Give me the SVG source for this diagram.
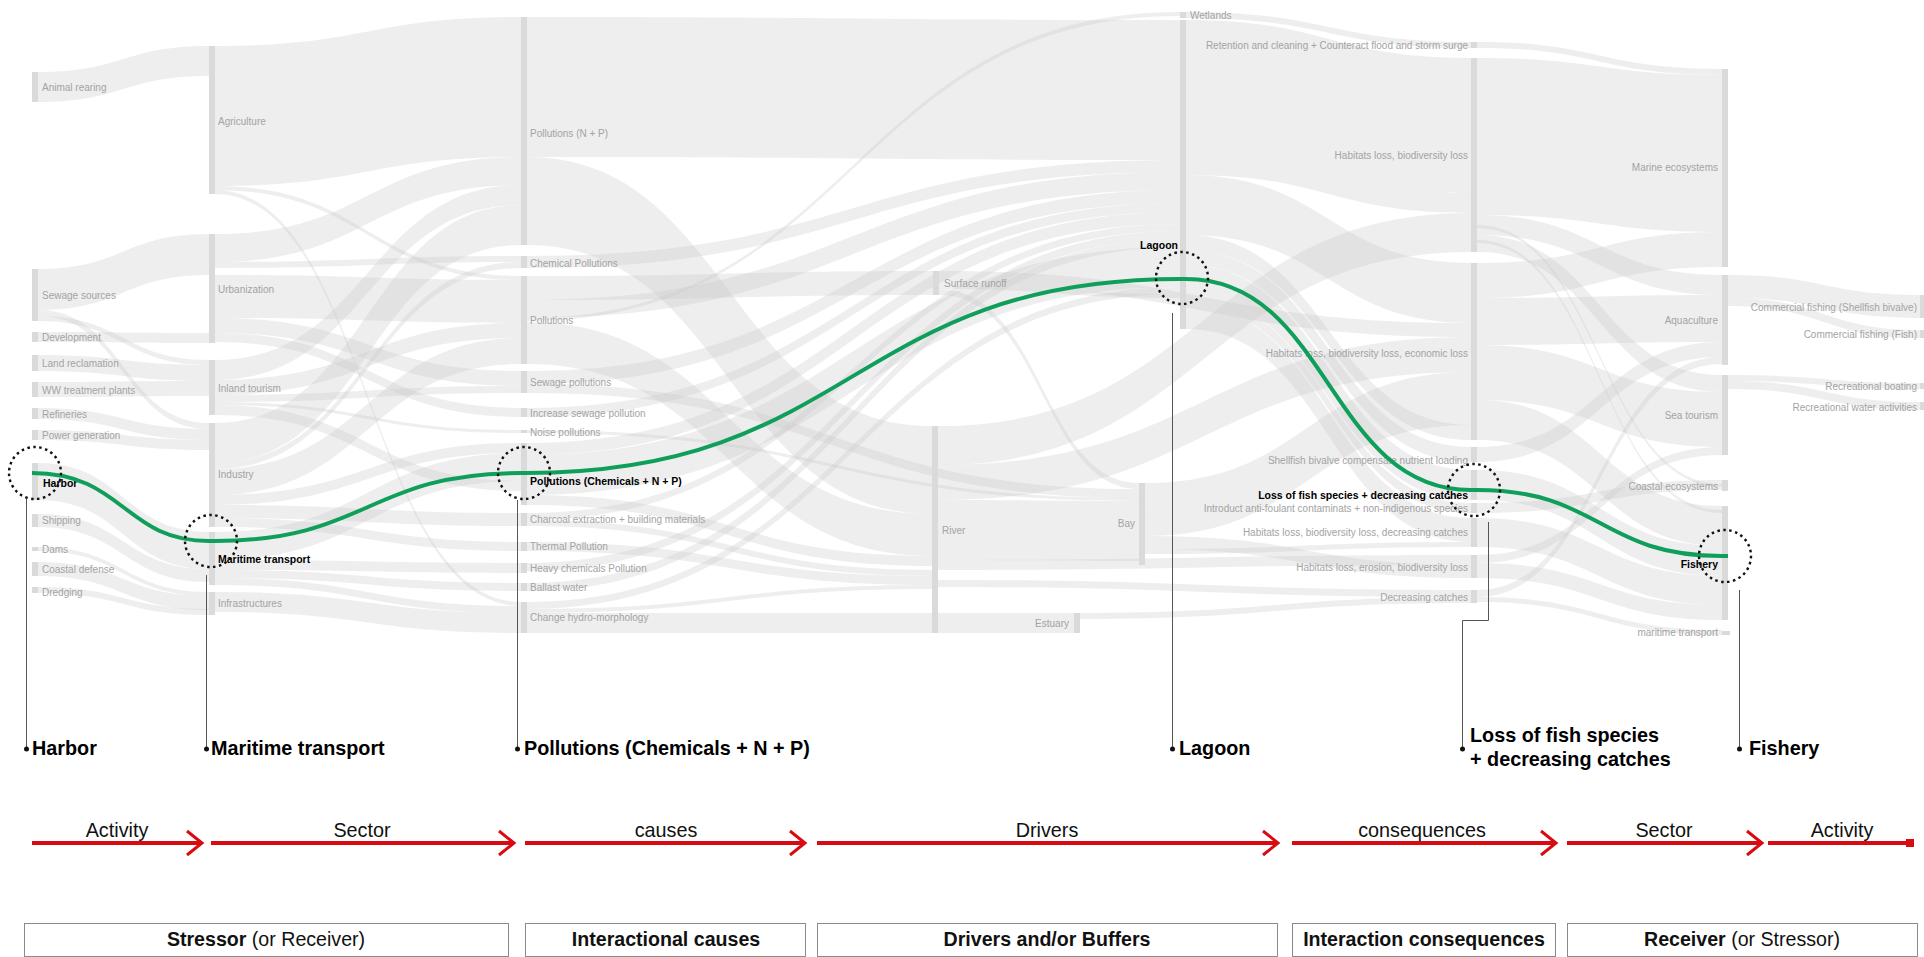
<svg xmlns="http://www.w3.org/2000/svg" width="1924" height="957" viewBox="0 0 1924 957">
<defs>
<style>
.bar{fill:#dadada}
.lbl{font-family:"Liberation Sans",Arial,sans-serif;font-size:10px;fill:#a3a3a3}
.end{text-anchor:end}
.hl{font-family:"Liberation Sans",Arial,sans-serif;font-size:10.5px;font-weight:bold;fill:#000}
#links path{fill:#cccccc;fill-opacity:0.33}
.focus{fill:none;stroke:#0f9f5b;stroke-width:4}
.ring{fill:none;stroke:#111;stroke-width:2.4;stroke-dasharray:2.5 3.5}
.lead{stroke:#555;stroke-width:1;fill:none}
.dot{fill:#111}
.big{font-family:"Liberation Sans",Arial,sans-serif;font-size:19.8px;font-weight:bold;fill:#000}
.arr{stroke:#d90a12;stroke-width:4;fill:none}
.alab{font-family:"Liberation Sans",Arial,sans-serif;font-size:19.8px;fill:#111;text-anchor:middle}
.box{fill:#fff;stroke:#8a8a8a;stroke-width:1}
.blab{font-family:"Liberation Sans",Arial,sans-serif;font-size:19.6px;fill:#111;text-anchor:middle}
.b{font-weight:bold}
</style>
<marker id="chev" markerUnits="userSpaceOnUse" markerWidth="20" markerHeight="30" refX="17" refY="15" orient="auto" overflow="visible"><path d="M2 3 L17 15 L2 27" fill="none" stroke="#d90a12" stroke-width="3"/></marker>
<marker id="sq" markerUnits="userSpaceOnUse" markerWidth="10" markerHeight="10" refX="8" refY="4" orient="auto" overflow="visible"><rect x="0" y="0" width="8" height="8" fill="#d90a12"/></marker>
</defs>
<rect width="1924" height="957" fill="#fff"/>

<g id="links">
<path d="M38 72C123.5 72 123.5 46 209 46L209 76C123.5 76 123.5 102 38 102Z"/>
<path d="M38 269C123.5 269 123.5 234 209 234L209 265C123.5 265 123.5 300 38 300Z"/>
<path d="M38 300C123.5 300 123.5 265 209 265L209 275C123.5 275 123.5 310 38 310Z"/>
<path d="M38 310C123.5 310 123.5 423 209 423L209 429C123.5 429 123.5 316 38 316Z"/>
<path d="M38 316C123.5 316 123.5 360 209 360L209 365C123.5 365 123.5 321 38 321Z"/>
<path d="M38 332C123.5 332 123.5 333 209 333L209 343C123.5 343 123.5 342 38 342Z"/>
<path d="M38 355C123.5 355 123.5 365 209 365L209 381C123.5 381 123.5 371 38 371Z"/>
<path d="M38 382C123.5 382 123.5 381 209 381L209 396C123.5 396 123.5 397 38 397Z"/>
<path d="M38 408C123.5 408 123.5 429 209 429L209 440C123.5 440 123.5 419 38 419Z"/>
<path d="M38 430C123.5 430 123.5 440 209 440L209 450C123.5 450 123.5 440 38 440Z"/>
<path d="M38 463C123.5 463 123.5 532 209 532L209 569C123.5 569 123.5 500 38 500Z"/>
<path d="M38 514C123.5 514 123.5 569 209 569L209 582C123.5 582 123.5 527 38 527Z"/>
<path d="M38 547C123.5 547 123.5 592 209 592L209 596C123.5 596 123.5 551 38 551Z"/>
<path d="M38 562C123.5 562 123.5 596 209 596L209 610C123.5 610 123.5 576 38 576Z"/>
<path d="M38 587C123.5 587 123.5 609 209 609L209 615C123.5 615 123.5 593 38 593Z"/>

<path d="M215 46C368 46 368 17 521 17L521 157C368 157 368 186 215 186Z"/>
<path d="M215 186C368 186 368 276 521 276L521 280C368 280 368 190 215 190Z"/>
<path d="M215 190C368 190 368 602 521 602L521 606C368 606 368 194 215 194Z"/>
<path d="M215 234C368 234 368 157 521 157L521 185C368 185 368 262 215 262Z"/>
<path d="M215 262C368 262 368 256 521 256L521 262C368 262 368 268 215 268Z"/>
<path d="M215 275C368 275 368 280 521 280L521 323C368 323 368 318 215 318Z"/>
<path d="M215 318C368 318 368 371 521 371L521 386C368 386 368 333 215 333Z"/>
<path d="M215 333C368 333 368 408 521 408L521 417C368 417 368 342 215 342Z"/>
<path d="M215 360C368 360 368 185 521 185L521 205C368 205 368 380 215 380Z"/>
<path d="M215 380C368 380 368 323 521 323L521 338C368 338 368 395 215 395Z"/>
<path d="M215 395C368 395 368 386 521 386L521 393C368 393 368 402 215 402Z"/>
<path d="M215 402C368 402 368 430 521 430L521 433C368 433 368 405 215 405Z"/>
<path d="M215 405C368 405 368 481 521 481L521 491C368 491 368 415 215 415Z"/>
<path d="M215 423C368 423 368 205 521 205L521 245C368 245 368 463 215 463Z"/>
<path d="M215 463C368 463 368 262 521 262L521 268C368 268 368 469 215 469Z"/>
<path d="M215 469C368 469 368 338 521 338L521 364C368 364 368 495 215 495Z"/>
<path d="M215 495C368 495 368 443 521 443L521 453C368 453 368 505 215 505Z"/>
<path d="M215 505C368 505 368 513 521 513L521 526C368 526 368 518 215 518Z"/>
<path d="M215 518C368 518 368 542 521 542L521 551C368 551 368 527 215 527Z"/>
<path d="M215 532C368 532 368 453 521 453L521 481C368 481 368 560 215 560Z"/>
<path d="M215 560C368 560 368 563 521 563L521 573C368 573 368 570 215 570Z"/>
<path d="M215 570C368 570 368 583 521 583L521 591C368 591 368 578 215 578Z"/>
<path d="M215 578C368 578 368 606 521 606L521 613C368 613 368 585 215 585Z"/>
<path d="M215 592C368 592 368 613 521 613L521 633C368 633 368 612 215 612Z"/>

<path d="M527 17C853.5 17 853.5 20 1180 20L1180 160C853.5 160 853.5 157 527 157Z"/>
<path d="M527 157C729.5 157 729.5 426 932 426L932 514C729.5 514 729.5 245 527 245Z"/>
<path d="M527 256C853.5 256 853.5 160 1180 160L1180 166C853.5 166 853.5 262 527 262Z"/>
<path d="M527 262C853.5 262 853.5 166 1180 166L1180 172C853.5 172 853.5 268 527 268Z"/>
<path d="M527 276C730 276 730 271 933 271L933 295C730 295 730 300 527 300Z"/>
<path d="M527 300C853.5 300 853.5 172 1180 172L1180 190C853.5 190 853.5 318 527 318Z"/>
<path d="M527 318C853.5 318 853.5 12 1180 12L1180 16C853.5 16 853.5 321 527 321Z"/>
<path d="M527 322C729.5 322 729.5 514 932 514L932 556C729.5 556 729.5 364 527 364Z"/>
<path d="M527 371C853.5 371 853.5 190 1180 190L1180 203C853.5 203 853.5 384 527 384Z"/>
<path d="M527 384C833 384 833 489 1139 489L1139 498C833 498 833 393 527 393Z"/>
<path d="M527 408C853.5 408 853.5 203 1180 203L1180 212C853.5 212 853.5 417 527 417Z"/>
<path d="M527 430C833 430 833 498 1139 498L1139 501C833 501 833 433 527 433Z"/>
<path d="M527 443C853.5 443 853.5 212 1180 212L1180 224C853.5 224 853.5 455 527 455Z"/>
<path d="M527 513C853.5 513 853.5 224 1180 224L1180 231C853.5 231 853.5 520 527 520Z"/>
<path d="M527 520C729.5 520 729.5 570 932 570L932 576C729.5 576 729.5 526 527 526Z"/>
<path d="M527 542C729.5 542 729.5 576 932 576L932 585C729.5 585 729.5 551 527 551Z"/>
<path d="M527 563C853.5 563 853.5 231 1180 231L1180 239C853.5 239 853.5 571 527 571Z"/>
<path d="M527 583C853.5 583 853.5 239 1180 239L1180 247C853.5 247 853.5 591 527 591Z"/>
<path d="M527 455C853.5 455 853.5 247 1180 247L1180 287C853.5 287 853.5 495 527 495Z"/>
<path d="M527 495C729.5 495 729.5 556 932 556L932 566C729.5 566 729.5 505 527 505Z"/>
<path d="M527 602C853.5 602 853.5 287 1180 287L1180 294C853.5 294 853.5 609 527 609Z"/>
<path d="M527 609C729.5 609 729.5 585 932 585L932 589C729.5 589 729.5 613 527 613Z"/>
<path d="M527 613H1074V633H527Z"/>

<path d="M1186 12C1328.5 12 1328.5 42 1471 42L1471 48C1328.5 48 1328.5 18 1186 18Z"/>
<path d="M1186 20C1328.5 20 1328.5 58 1471 58L1471 193C1328.5 193 1328.5 155 1186 155Z"/>
<path d="M1186 155C1328.5 155 1328.5 193 1471 193L1471 213C1328.5 213 1328.5 175 1186 175Z"/>
<path d="M1186 175C1328.5 175 1328.5 263 1471 263L1471 323C1328.5 323 1328.5 235 1186 235Z"/>
<path d="M1186 235C1328.5 235 1328.5 425 1471 425L1471 440C1328.5 440 1328.5 250 1186 250Z"/>
<path d="M1186 250C1328.5 250 1328.5 447 1471 447L1471 462C1328.5 462 1328.5 265 1186 265Z"/>
<path d="M1186 265C1328.5 265 1328.5 470 1471 470L1471 500C1328.5 500 1328.5 295 1186 295Z"/>
<path d="M1186 295C1328.5 295 1328.5 503 1471 503L1471 513C1328.5 513 1328.5 305 1186 305Z"/>
<path d="M1186 305C1328.5 305 1328.5 518 1471 518L1471 542C1328.5 542 1328.5 329 1186 329Z"/>
<path d="M939 271C1205 271 1205 323 1471 323L1471 337C1205 337 1205 285 939 285Z"/>
<path d="M939 285C1059.5 285 1059.5 294 1180 294L1180 298C1059.5 298 1059.5 289 939 289Z"/>
<path d="M939 289C1042 289 1042 483 1139 483L1139 489C1042 489 1042 295 939 295Z"/>
<path d="M938 426C1204.5 426 1204.5 213 1471 213L1471 252C1204.5 252 1204.5 465 938 465Z"/>
<path d="M938 465C1204.5 465 1204.5 337 1471 337L1471 372C1204.5 372 1204.5 500 938 500Z"/>
<path d="M938 500C1038.5 500 1038.5 501 1139 501L1139 561C1038.5 561 1038.5 560 938 560Z"/>
<path d="M938 560C1204.5 560 1204.5 555 1471 555L1471 565C1204.5 565 1204.5 570 938 570Z"/>
<path d="M938 580C1204.5 580 1204.5 590 1471 590L1471 597C1204.5 597 1204.5 587 938 587Z"/>
<path d="M1145 483C1308 483 1308 372 1471 372L1471 409C1308 409 1308 520 1145 520Z"/>
<path d="M1145 520C1308 520 1308 409 1471 409L1471 425C1308 425 1308 536 1145 536Z"/>
<path d="M1145 536C1308 536 1308 565 1471 565L1471 578C1308 578 1308 549 1145 549Z"/>
<path d="M1145 549C1308 549 1308 542 1471 542L1471 547C1308 547 1308 554 1145 554Z"/>
<path d="M1080 613C1275.5 613 1275.5 597 1471 597L1471 603C1275.5 603 1275.5 619 1080 619Z"/>

<path d="M1477 42C1599.5 42 1599.5 69 1722 69L1722 75C1599.5 75 1599.5 48 1477 48Z"/>
<path d="M1477 58C1599.5 58 1599.5 75 1722 75L1722 232C1599.5 232 1599.5 215 1477 215Z"/>
<path d="M1477 215C1599.5 215 1599.5 275 1722 275L1722 295C1599.5 295 1599.5 235 1477 235Z"/>
<path d="M1477 235C1599.5 235 1599.5 375 1722 375L1722 392C1599.5 392 1599.5 252 1477 252Z"/>
<path d="M1477 263C1599.5 263 1599.5 232 1722 232L1722 267C1599.5 267 1599.5 298 1477 298Z"/>
<path d="M1477 298C1599.5 298 1599.5 295 1722 295L1722 342C1599.5 342 1599.5 345 1477 345Z"/>
<path d="M1477 345C1599.5 345 1599.5 392 1722 392L1722 447C1599.5 447 1599.5 400 1477 400Z"/>
<path d="M1477 400C1599.5 400 1599.5 506 1722 506L1722 546C1599.5 546 1599.5 440 1477 440Z"/>
<path d="M1477 447C1599.5 447 1599.5 342 1722 342L1722 357C1599.5 357 1599.5 462 1477 462Z"/>
<path d="M1477 470C1599.5 470 1599.5 546 1722 546L1722 576C1599.5 576 1599.5 500 1477 500Z"/>
<path d="M1477 503C1599.5 503 1599.5 480 1722 480L1722 490C1599.5 490 1599.5 513 1477 513Z"/>
<path d="M1477 518C1599.5 518 1599.5 576 1722 576L1722 605C1599.5 605 1599.5 547 1477 547Z"/>
<path d="M1477 555C1599.5 555 1599.5 447 1722 447L1722 455C1599.5 455 1599.5 563 1477 563Z"/>
<path d="M1477 563C1599.5 563 1599.5 605 1722 605L1722 620C1599.5 620 1599.5 578 1477 578Z"/>
<path d="M1477 590C1599.5 590 1599.5 357 1722 357L1722 364C1599.5 364 1599.5 597 1477 597Z"/>
<path d="M1477 597C1599.5 597 1599.5 630 1722 630L1722 635C1599.5 635 1599.5 602 1477 602Z"/>
<path d="M1477 225C1599.5 225 1599.5 484 1722 484L1722 487C1599.5 487 1599.5 228 1477 228Z"/>
<path d="M1477 240C1599.5 240 1599.5 510 1722 510L1722 513C1599.5 513 1599.5 243 1477 243Z"/>

<path d="M1728 275C1824 275 1824 295 1920 295L1920 318C1824 318 1824 298 1728 298Z"/>
<path d="M1728 298C1824 298 1824 330 1920 330L1920 338C1824 338 1824 306 1728 306Z"/>
<path d="M1728 375C1824 375 1824 383 1920 383L1920 389C1824 389 1824 381 1728 381Z"/>
<path d="M1728 381C1824 381 1824 402 1920 402L1920 410C1824 410 1824 389 1728 389Z"/>
</g>

<g id="col-activity">
<g id="n-animal-rearing"><rect class="bar" x="32" y="72" width="6" height="30"/><text class="lbl" x="42" y="90.5">Animal rearing</text></g>
<g id="n-sewage-sources"><rect class="bar" x="32" y="269" width="6" height="52"/><text class="lbl" x="42" y="298.5">Sewage sources</text></g>
<g id="n-development"><rect class="bar" x="32" y="332" width="6" height="10"/><text class="lbl" x="42" y="340.5">Development</text></g>
<g id="n-land-reclamation"><rect class="bar" x="32" y="355" width="6" height="16"/><text class="lbl" x="42" y="366.5">Land reclamation</text></g>
<g id="n-ww-treatment"><rect class="bar" x="32" y="382" width="6" height="15"/><text class="lbl" x="42" y="393.5">WW treatment plants</text></g>
<g id="n-refineries"><rect class="bar" x="32" y="408" width="6" height="11"/><text class="lbl" x="42" y="417.5">Refineries</text></g>
<g id="n-power-generation"><rect class="bar" x="32" y="430" width="6" height="10"/><text class="lbl" x="42" y="438.5">Power generation</text></g>
<g id="n-harbor"><rect class="bar" x="32" y="463" width="6" height="37"/><text class="hl" x="43" y="487">Harbor</text></g>
<g id="n-shipping"><rect class="bar" x="32" y="514" width="6" height="13"/><text class="lbl" x="42" y="523.5">Shipping</text></g>
<g id="n-dams"><rect class="bar" x="32" y="547" width="6" height="4"/><text class="lbl" x="42" y="552.5">Dams</text></g>
<g id="n-coastal-defense"><rect class="bar" x="32" y="562" width="6" height="14"/><text class="lbl" x="42" y="572.5">Coastal defense</text></g>
<g id="n-dredging"><rect class="bar" x="32" y="587" width="6" height="6"/><text class="lbl" x="42" y="595.5">Dredging</text></g>
</g>

<g id="col-sector">
<g id="n-agriculture"><rect class="bar" x="209" y="46" width="6" height="148"/><text class="lbl" x="218" y="124.5">Agriculture</text></g>
<g id="n-urbanization"><rect class="bar" x="209" y="234" width="6" height="109"/><text class="lbl" x="218" y="292.5">Urbanization</text></g>
<g id="n-inland-tourism"><rect class="bar" x="209" y="360" width="6" height="55"/><text class="lbl" x="218" y="391.5">Inland tourism</text></g>
<g id="n-industry"><rect class="bar" x="209" y="423" width="6" height="104"/><text class="lbl" x="218" y="477.5">Industry</text></g>
<g id="n-maritime-transport"><rect class="bar" x="209" y="532" width="6" height="53"/><text class="hl" x="218" y="563">Maritime transport</text></g>
<g id="n-infrastructures"><rect class="bar" x="209" y="592" width="6" height="23"/><text class="lbl" x="218" y="606.5">Infrastructures</text></g>
</g>

<g id="col-causes">
<g id="n-pollutions-np"><rect class="bar" x="521" y="17" width="6" height="228"/><text class="lbl" x="530" y="136.5">Pollutions (N + P)</text></g>
<g id="n-chemical-pollutions"><rect class="bar" x="521" y="256" width="6" height="12"/><text class="lbl" x="530" y="266.5">Chemical Pollutions</text></g>
<g id="n-pollutions"><rect class="bar" x="521" y="276" width="6" height="88"/><text class="lbl" x="530" y="323.5">Pollutions</text></g>
<g id="n-sewage-pollutions"><rect class="bar" x="521" y="371" width="6" height="22"/><text class="lbl" x="530" y="385.5">Sewage pollutions</text></g>
<g id="n-increase-sewage"><rect class="bar" x="521" y="408" width="6" height="9"/><text class="lbl" x="530" y="416.5">Increase sewage pollution</text></g>
<g id="n-noise"><rect class="bar" x="521" y="430" width="6" height="3"/><text class="lbl" x="530" y="435.5">Noise pollutions</text></g>
<g id="n-pollutions-cnp"><rect class="bar" x="521" y="443" width="6" height="62"/><text class="hl" x="530" y="485">Pollutions (Chemicals + N + P)</text></g>
<g id="n-charcoal"><rect class="bar" x="521" y="513" width="6" height="13"/><text class="lbl" x="530" y="522.5">Charcoal extraction + building materials</text></g>
<g id="n-thermal"><rect class="bar" x="521" y="542" width="6" height="9"/><text class="lbl" x="530" y="549.5">Thermal Pollution</text></g>
<g id="n-heavy-chemicals"><rect class="bar" x="521" y="563" width="6" height="10"/><text class="lbl" x="530" y="571.5">Heavy chemicals Pollution</text></g>
<g id="n-ballast"><rect class="bar" x="521" y="583" width="6" height="8"/><text class="lbl" x="530" y="590.5">Ballast water</text></g>
<g id="n-hydro"><rect class="bar" x="521" y="602" width="6" height="31"/><text class="lbl" x="530" y="620.5">Change hydro-morphology</text></g>
</g>

<g id="col-drivers">
<g id="n-surface-runoff"><rect class="bar" x="933" y="271" width="6" height="24"/><text class="lbl" x="944" y="286.5">Surface runoff</text></g>
<g id="n-river"><rect class="bar" x="932" y="426" width="6" height="207"/><text class="lbl" x="942" y="533.5">River</text></g>
<g id="n-estuary"><rect class="bar" x="1074" y="613" width="6" height="20"/><text class="lbl end" x="1069" y="626.5">Estuary</text></g>
<g id="n-bay"><rect class="bar" x="1139" y="483" width="6" height="82"/><text class="lbl end" x="1135" y="526.5">Bay</text></g>
<g id="n-wetlands"><rect class="bar" x="1180" y="12" width="6" height="6"/><text class="lbl" x="1190" y="18.5">Wetlands</text></g>
<g id="n-lagoon"><rect class="bar" x="1180" y="20" width="6" height="309"/><text class="hl end" x="1178" y="249">Lagoon</text></g>
</g>

<g id="col-consequences">
<g id="n-retention"><rect class="bar" x="1471" y="42" width="6" height="6"/><text class="lbl end" x="1468" y="48.5">Retention and cleaning + Counteract flood and storm surge</text></g>
<g id="n-hab-biodiv"><rect class="bar" x="1471" y="58" width="6" height="194"/><text class="lbl end" x="1468" y="158.5">Habitats loss, biodiversity loss</text></g>
<g id="n-hab-economic"><rect class="bar" x="1471" y="263" width="6" height="177"/><text class="lbl end" x="1468" y="356.5">Habitats loss, biodiversity loss, economic loss</text></g>
<g id="n-shellfish"><rect class="bar" x="1471" y="447" width="6" height="15"/><text class="lbl end" x="1468" y="463.5">Shellfish bivalve compensate nutrient loading</text></g>
<g id="n-loss-fish"><rect class="bar" x="1471" y="470" width="6" height="30"/><text class="hl end" x="1468" y="499">Loss of fish species + decreasing catches</text></g>
<g id="n-introduct"><rect class="bar" x="1471" y="503" width="6" height="10"/><text class="lbl end" x="1468" y="511.5">Introduct anti-foulant contaminats + non-indigenous species</text></g>
<g id="n-hab-catches"><rect class="bar" x="1471" y="518" width="6" height="29"/><text class="lbl end" x="1468" y="535.5">Habitats loss, biodiversity loss, decreasing catches</text></g>
<g id="n-hab-erosion"><rect class="bar" x="1471" y="555" width="6" height="23"/><text class="lbl end" x="1468" y="570.5">Habitats loss, erosion, biodiversity loss</text></g>
<g id="n-decreasing"><rect class="bar" x="1471" y="590" width="6" height="13"/><text class="lbl end" x="1468" y="600.5">Decreasing catches</text></g>
</g>

<g id="col-receiver-sector">
<g id="n-marine"><rect class="bar" x="1722" y="69" width="6" height="198"/><text class="lbl end" x="1718" y="170.5">Marine ecosystems</text></g>
<g id="n-aquaculture"><rect class="bar" x="1722" y="275" width="6" height="90"/><text class="lbl end" x="1718" y="323.5">Aquaculture</text></g>
<g id="n-sea-tourism"><rect class="bar" x="1722" y="375" width="6" height="80"/><text class="lbl end" x="1718" y="418.5">Sea tourism</text></g>
<g id="n-coastal-eco"><rect class="bar" x="1722" y="480" width="6" height="11"/><text class="lbl end" x="1718" y="489.5">Coastal ecosystems</text></g>
<g id="n-fishery"><rect class="bar" x="1722" y="506" width="6" height="114"/><text class="hl end" x="1718" y="568">Fishery</text></g>
<g id="n-maritime-transport-r"><rect class="bar" x="1722" y="631" width="8" height="4"/><text class="lbl end" x="1718" y="635.5">maritime transport</text></g>
</g>

<g id="col-receiver-activity">
<g id="n-cf-shellfish"><rect class="bar" x="1920" y="295" width="4" height="23"/><text class="lbl end" x="1917" y="310.5">Commercial fishing (Shellfish bivalve)</text></g>
<g id="n-cf-fish"><rect class="bar" x="1920" y="330" width="4" height="8"/><text class="lbl end" x="1917" y="337.5">Commercial fishing (Fish)</text></g>
<g id="n-rec-boating"><rect class="bar" x="1920" y="383" width="4" height="6"/><text class="lbl end" x="1917" y="389.5">Recreational boating</text></g>
<g id="n-rec-water"><rect class="bar" x="1920" y="402" width="4" height="8"/><text class="lbl end" x="1917" y="410.5">Recreational water activities</text></g>
</g>

<g id="highlight">
<path class="focus" d="M32 473C124 473 124 541 209 541L215 541C368 541 368 473 521 473L527 473C853 473 853 279 1180 279L1186 279C1329 279 1329 490 1471 490L1477 490C1600 490 1600 556 1722 556L1728 556"/>
<circle class="ring" cx="35" cy="473" r="26"/>
<circle class="ring" cx="211" cy="541" r="26"/>
<circle class="ring" cx="524" cy="473" r="26"/>
<circle class="ring" cx="1182" cy="278" r="26"/>
<circle class="ring" cx="1474" cy="490" r="26"/>
<circle class="ring" cx="1725" cy="556" r="26"/>
</g>

<g id="leaders">
<path class="lead" d="M26.5 499V749"/>
<path class="lead" d="M206.5 575V749"/>
<path class="lead" d="M517.5 500V749"/>
<path class="lead" d="M1172.5 313V749"/>
<path class="lead" d="M1488.5 522V620.5H1462.5V749"/>
<path class="lead" d="M1739.5 590V749"/>
<circle class="dot" cx="26.5" cy="749" r="2.5"/>
<circle class="dot" cx="206.5" cy="749" r="2.5"/>
<circle class="dot" cx="517.5" cy="749" r="2.5"/>
<circle class="dot" cx="1172.5" cy="749" r="2.5"/>
<circle class="dot" cx="1462.5" cy="749" r="2.5"/>
<circle class="dot" cx="1739.5" cy="749" r="2.5"/>
<text class="big" x="32" y="755">Harbor</text>
<text class="big" x="211" y="755">Maritime transport</text>
<text class="big" x="524" y="755">Pollutions (Chemicals + N + P)</text>
<text class="big" x="1179" y="755">Lagoon</text>
<text class="big" x="1470" y="742">Loss of fish species</text>
<text class="big" x="1470" y="766">+ decreasing catches</text>
<text class="big" x="1749" y="755">Fishery</text>
</g>

<g id="flow-arrows">
<path class="arr" d="M32 843H202" marker-end="url(#chev)"/>
<path class="arr" d="M211 843H514" marker-end="url(#chev)"/>
<path class="arr" d="M525 843H805" marker-end="url(#chev)"/>
<path class="arr" d="M817 843H1278" marker-end="url(#chev)"/>
<path class="arr" d="M1292 843H1556" marker-end="url(#chev)"/>
<path class="arr" d="M1567 843H1762" marker-end="url(#chev)"/>
<path class="arr" d="M1768 843H1914" marker-end="url(#sq)"/>
<text class="alab" x="117" y="837">Activity</text>
<text class="alab" x="362" y="837">Sector</text>
<text class="alab" x="666" y="837">causes</text>
<text class="alab" x="1047" y="837">Drivers</text>
<text class="alab" x="1422" y="837">consequences</text>
<text class="alab" x="1664" y="837">Sector</text>
<text class="alab" x="1842" y="837">Activity</text>
</g>

<g id="stage-boxes">
<rect class="box" x="24.5" y="923.5" width="484" height="33"/>
<rect class="box" x="525.5" y="923.5" width="280" height="33"/>
<rect class="box" x="817.5" y="923.5" width="460" height="33"/>
<rect class="box" x="1292.5" y="923.5" width="263" height="33"/>
<rect class="box" x="1567.5" y="923.5" width="350" height="33"/>
<text class="blab" x="266" y="946"><tspan class="b">Stressor</tspan> (or Receiver)</text>
<text class="blab b" x="666" y="946">Interactional causes</text>
<text class="blab b" x="1047" y="946">Drivers and/or Buffers</text>
<text class="blab b" x="1424" y="946">Interaction consequences</text>
<text class="blab" x="1742" y="946"><tspan class="b">Receiver</tspan> (or Stressor)</text>
</g>
</svg>
